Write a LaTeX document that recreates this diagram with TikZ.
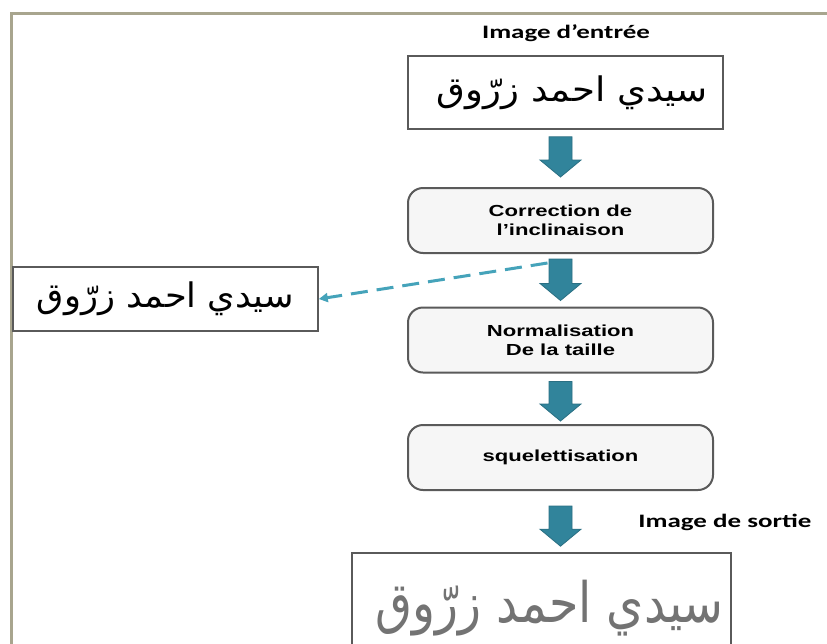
\documentclass[tikz,border=0pt]{standalone}
\usepackage{fontspec}
\usepackage{graphicx}
\usetikzlibrary{calc,arrows.meta}
\TeXXeTstate=1
\newfontfamily\boxfont{Liberation Sans}
\newfontfamily\titlefont{Carlito}
\newfontfamily\arabicfont[Script=Arabic]{DejaVu Sans}
\definecolor{framecol}{HTML}{A8A58E}
\definecolor{edgecol}{HTML}{5A5A5A}
\definecolor{stepfill}{HTML}{F6F6F6}
\definecolor{arrowcol}{HTML}{31849B}
\definecolor{arrowedge}{HTML}{2A6F83}
\definecolor{dashcol}{HTML}{45A3BA}
% horizontally widened text
\newcommand\hwide[2][1.38]{\scalebox{#1}[1]{#2}}
% Arabic sample text, resized to a given width and total height
\newcommand\arsample[2]{\resizebox*{#1}{#2}{\arabicfont\beginR سيدي احمد زرّوق\endR}}
% block arrow from a top point to a tip point (same x)
\newcommand\blockarrow[2]{%
  \path[blockarr] ($(#1)+(-11.5,0)$) -- ($(#1)+(11.5,0)$) -- ($(#2)+(11.5,-17)$)
    -- ($(#2)+(20.5,-17)$) -- (#2) -- ($(#2)+(-20.5,-17)$)
    -- ($(#2)+(-11.5,-17)$) -- cycle;}
\tikzset{
  imgbox/.style={draw=edgecol, line width=1.6pt, fill=white, inner sep=0pt},
  stepbox/.style={draw=edgecol, line width=2pt, fill=stepfill, rounded corners=15pt,
    minimum width=305pt, minimum height=65pt, inner sep=0pt, align=center,
    font=\boxfont\bfseries\fontsize{16pt}{19pt}\selectfont},
  title/.style={font=\titlefont\bfseries\fontsize{19pt}{22pt}\selectfont, inner sep=0pt},
  blockarr/.style={fill=arrowcol, draw=arrowedge, line width=0.8pt, line join=miter},
  dashline/.style={draw=dashcol, line width=3pt, dash pattern=on 17pt off 9pt,
    -{Triangle[length=9pt,width=9pt]}},
  framestyle/.style={draw=framecol, line width=3pt}
}
\begin{document}
\begin{tikzpicture}[x=1pt,y=-1pt]
\useasboundingbox (0,0) rectangle (827,643);
\fill[white] (0,0) rectangle (827,643);
% page frame
\draw[framestyle] (11,650) -- (11,13) -- (830,13);

% titles
\node[title] (tin) at (566,33) {\hwide[1.42]{Image d’entrée}};
\node[title] (tout) at (725,522) {\hwide[1.42]{Image de sortie}};

% input image
\node[imgbox, minimum width=315pt, minimum height=73pt] (in) at (565.5,92.5)
  {\hspace*{14pt}\raisebox{-2pt}{\arsample{271pt}{34pt}}};

% processing steps
\node[stepbox] (corr) at (560.5,220.5) {\hwide{Correction de}\\\hwide{l’inclinaison}};
\node[stepbox] (norm) at (560.5,340) {\hwide{Normalisation}\\\hwide{De la taille}};
\node[stepbox] (sque) at (560.5,457.5) {\raisebox{-10pt}{\hwide{squelettisation}}};

% corrected image on the side
\node[imgbox, minimum width=305pt, minimum height=64pt] (side) at (165.5,299)
  {\arsample{257pt}{34pt}};

% output image (runs past the lower edge)
\node[imgbox, minimum width=379pt, minimum height=110pt] (out) at (541.5,608)
  {\hspace*{16pt}\raisebox{8pt}{\textcolor{black!55}{\arsample{348pt}{56pt}}}};

% block arrows between the steps
\coordinate (a1s) at ($(corr.north |- in.south)+(0,7)$);
\coordinate (a1e) at ($(corr.north)+(0,-10)$);
\blockarrow{a1s}{a1e}
\coordinate (a2s) at ($(corr.south)+(0,5)$);
\coordinate (a2e) at ($(norm.north)+(0,-6)$);
\blockarrow{a2s}{a2e}
\coordinate (a3s) at ($(norm.south)+(0,8)$);
\coordinate (a3e) at ($(sque.north)+(0,-3)$);
\blockarrow{a3s}{a3e}
\coordinate (a4s) at ($(sque.south)+(0,15)$);
\coordinate (a4e) at ($(sque.south |- out.north)+(0,-6)$);
\blockarrow{a4s}{a4e}

% dashed link to the corrected image
\coordinate (dstart) at ($(corr.south)+(-13,9)$);
\draw[dashline] (dstart) -- (side.east);
\end{tikzpicture}
\end{document}
